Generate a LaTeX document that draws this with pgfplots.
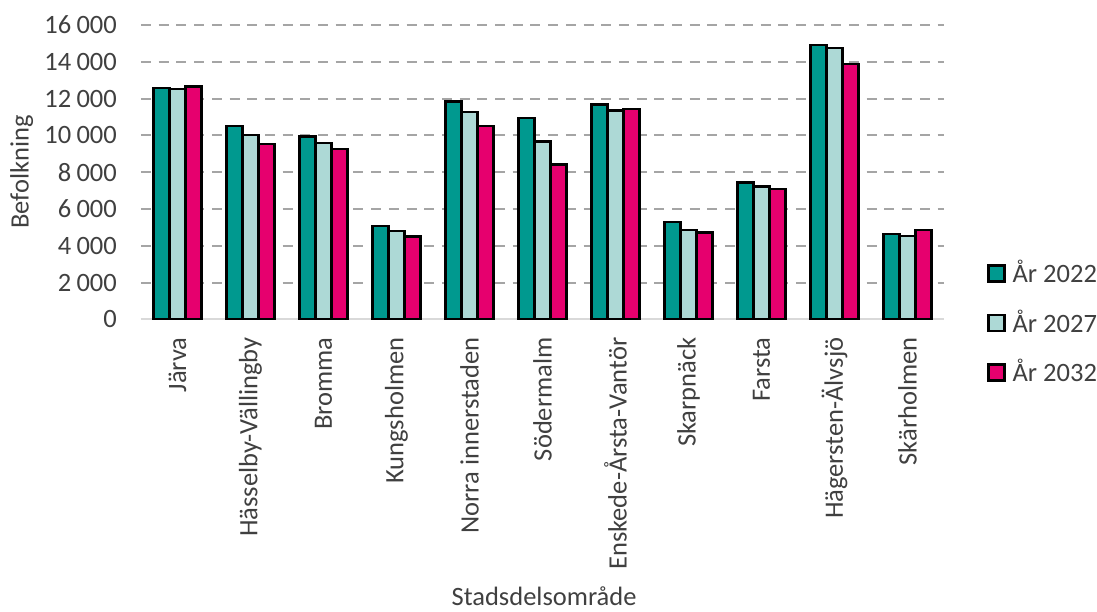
\documentclass[border=0pt]{standalone}
\usepackage{pgfplots}
\pgfplotsset{compat=1.18}
\usepackage{fontspec}
\setmainfont{Carlito}
\definecolor{cA}{RGB}{0,153,143}
\definecolor{cB}{RGB}{173,217,214}
\definecolor{cC}{RGB}{230,0,110}
\definecolor{txt}{RGB}{64,64,64}
\definecolor{gridc}{RGB}{165,165,165}
\definecolor{axc}{RGB}{217,217,217}
\pgfplotsset{sq legend/.style={legend image code/.code={\draw[##1, line width=2.4pt] (0pt,-8pt) rectangle (16pt,8pt); \path (22pt,0pt);}}}
\begin{document}
\fontsize{26.5}{31}\selectfont
\begin{tikzpicture}
\path[use as bounding box] (0,0) rectangle (1097pt,611pt);
\begin{axis}[
 at={(141pt,291.7pt)}, anchor=south west,
 scale only axis, width=803pt, height=294.3pt,
 xmin=-0.5, xmax=10.5, ymin=0, ymax=16000,
 ybar=0pt, bar width=16pt,
 xtick={0,...,10},
 xticklabels={Järva, Hässelby-Vällingby, Bromma, Kungsholmen, Norra innerstaden, Södermalm, Enskede-Årsta-Vantör, Skarpnäck, Farsta, Hägersten-Älvsjö, Skärholmen},
 ytick={0,2000,...,16000},
 /pgf/number format/assume math mode=true,
 /pgf/number format/1000 sep={\hspace{0.2em}},
 scaled y ticks=false,
 major tick length=0pt,
 axis x line*=bottom, axis y line*=left,
 y axis line style={draw=none},
 x axis line style={draw=axc, line width=2pt},
 ymajorgrids,
 major grid style={draw=gridc, line width=2pt, dash pattern=on 10pt off 7.7pt},
 xticklabel style={yshift=-18pt, rotate=90, anchor=east, inner sep=0pt, text=txt},
 yticklabel style={inner sep=0pt, xshift=-24pt, text=txt},
 ylabel={Befolkning}, xlabel={Stadsdelsområde},
 ylabel style={at={(axis description cs:-0.1486,0.5)}, anchor=center, inner sep=0pt, text=txt},
 xlabel style={at={(axis description cs:0.502,-0.974)}, anchor=base, inner sep=0pt, text=txt},
 legend cell align=left,
 legend style={at={(axis description cs:1.0536,-0.0126)}, anchor=west, draw=none, fill=none, inner sep=0pt, row sep=21pt, nodes={inner sep=1pt, text=txt}},
 every axis plot/.append style={draw=black, line width=2.4pt},
]
\addplot[fill=cA, sq legend] coordinates {(0,12590) (1,10500) (2,9940) (3,5060) (4,11840) (5,10930) (6,11670) (7,5300) (8,7440) (9,14920) (10,4650)};
\addplot[fill=cB, sq legend] coordinates {(0,12510) (1,10030) (2,9590) (3,4790) (4,11260) (5,9660) (6,11350) (7,4860) (8,7230) (9,14760) (10,4520)};
\addplot[fill=cC, sq legend] coordinates {(0,12660) (1,9520) (2,9250) (3,4500) (4,10500) (5,8410) (6,11420) (7,4720) (8,7070) (9,13870) (10,4860)};
\legend{År 2022, År 2027, År 2032}
\end{axis}
\end{tikzpicture}
\end{document}
